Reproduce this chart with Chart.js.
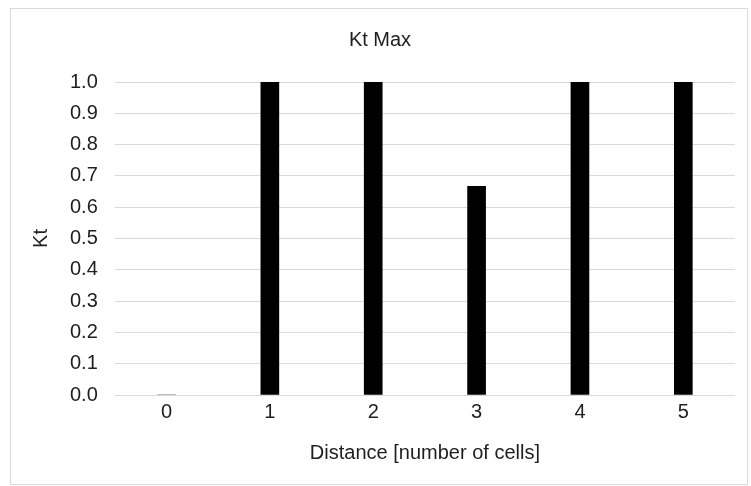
<!DOCTYPE html>
<html>
<head>
<meta charset="utf-8">
<script src="https://cdn.jsdelivr.net/npm/chart.js@4"></script>
<style>
    html, body { margin: 0; padding: 0; background: #ffffff; }
    #wrap {
        position: absolute;
        left: 10px;
        top: 8px;
        width: 736px;
        height: 475px;
        border: 1px solid #d9d9d9;
        background: #ffffff;
    }
</style>
</head>
<body>
<div id="wrap"><canvas id="kt-chart"></canvas></div>
<script>
const distances = ['0', '1', '2', '3', '4', '5'];
const ktMax = [0, 1, 1, 0.667, 1, 1];
const yTicks = [0, 0.1, 0.2, 0.3, 0.4, 0.5, 0.6, 0.7, 0.8, 0.9, 1.0];

const textColor = '#1e1e1e';
const fontFamily = '"Liberation Sans", Arial, sans-serif';

const ctx = document.getElementById('kt-chart').getContext('2d');
new Chart(ctx, {
    type: 'bar',
    data: {
        labels: distances,
        datasets: [{
            label: 'Kt Max',
            data: ktMax,
            backgroundColor: '#000000',
            borderWidth: 0,
            barThickness: 18
        }]
    },
    options: {
        responsive: true,
        maintainAspectRatio: false,
        animation: false,
        layout: {
            padding: { left: 14, right: 12, top: 0, bottom: 15 }
        },
        plugins: {
            legend: { display: false },
            tooltip: { enabled: false },
            title: {
                display: true,
                text: 'Kt Max',
                color: textColor,
                font: { family: fontFamily, size: 20, weight: 'normal' },
                padding: { top: 19, bottom: 30 }
            }
        },
        scales: {
            x: {
                grid: { display: false, drawTicks: false },
                border: { display: false },
                ticks: {
                    color: textColor,
                    font: { family: fontFamily, size: 20 },
                    padding: 5
                },
                title: {
                    display: true,
                    text: 'Distance [number of cells]',
                    color: textColor,
                    font: { family: fontFamily, size: 20 },
                    padding: { top: 12, bottom: 4 }
                }
            },
            y: {
                min: 0,
                max: 1,
                afterBuildTicks: function (axis) {
                    axis.ticks = yTicks.map(v => ({ value: v }));
                },
                grid: {
                    color: '#d9d9d9',
                    lineWidth: 1,
                    drawTicks: false
                },
                border: { display: false },
                ticks: {
                    color: textColor,
                    font: { family: fontFamily, size: 20 },
                    padding: 17,
                    callback: function (value) { return Number(value).toFixed(1); }
                },
                title: {
                    display: true,
                    text: 'Kt',
                    color: textColor,
                    font: { family: fontFamily, size: 20 },
                    padding: { top: 4, bottom: 0 }
                }
            }
        }
    }
});
</script>
</body>
</html>
